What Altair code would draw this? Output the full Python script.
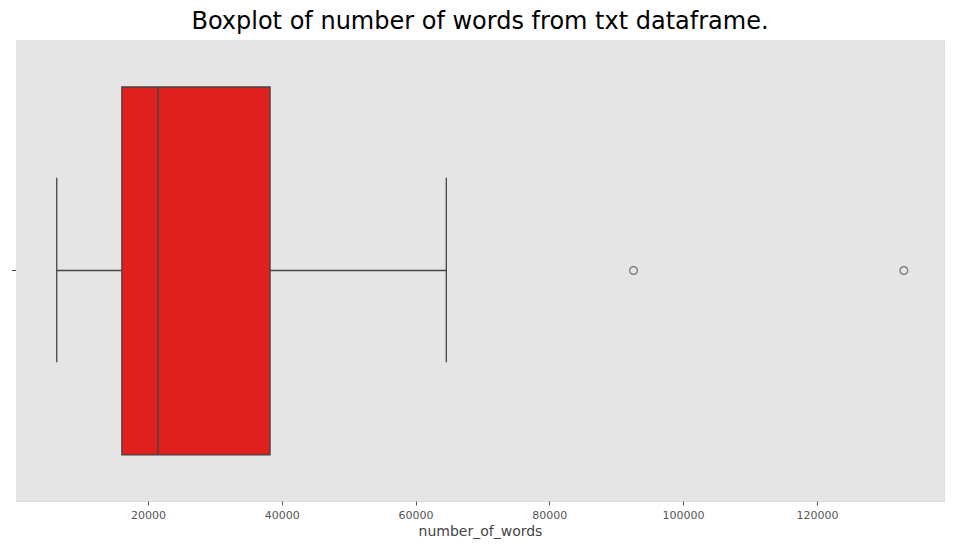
import altair as alt
import pandas as pd

stat_names = ["low", "q1", "median", "q3", "high"]
stat_values = [6360, 16090, 21480, 38250, 64600]
outliers = [92590, 133000]

s = dict(zip(stat_names, stat_values))
box_df = pd.DataFrame([s])
out_df = pd.DataFrame({"number_of_words": outliers})

W, H = 928, 461
xscale = alt.Scale(domain=[270, 139000], nice=False, zero=False)
xaxis = alt.Axis(title="number_of_words", values=[20000, 40000, 60000, 80000, 100000, 120000],
                 format="d", grid=True, gridColor="white", gridWidth=1, domain=False,
                 tickColor="#555", labelColor="#555", labelFontSize=11, titleFontSize=14,
                 titleColor="#444", titleFontWeight="normal", tickSize=4, labelPadding=4)

base = alt.Chart(box_df)
cy = H * 0.5
bg = base.mark_rect(fill="#E5E5E5").encode(x=alt.value(0), x2=alt.value(W), y=alt.value(0), y2=alt.value(H))
box = base.mark_rect(fill="#E01F1F", stroke="#444", strokeWidth=1.3).encode(
    x=alt.X("q1:Q", scale=xscale, axis=xaxis), x2="q3:Q",
    y=alt.value(H * 0.102), y2=alt.value(H * 0.9))
wl = base.mark_rule(color="#444", strokeWidth=1.3).encode(x=alt.X("low:Q", scale=xscale), x2="q1:Q", y=alt.value(cy))
wh = base.mark_rule(color="#444", strokeWidth=1.3).encode(x=alt.X("q3:Q", scale=xscale), x2="high:Q", y=alt.value(cy))
capl = base.mark_rule(color="#444", strokeWidth=1.3).encode(x=alt.X("low:Q", scale=xscale), y=alt.value(H * 0.299), y2=alt.value(H * 0.699))
caph = base.mark_rule(color="#444", strokeWidth=1.3).encode(x=alt.X("high:Q", scale=xscale), y=alt.value(H * 0.299), y2=alt.value(H * 0.699))
med = base.mark_rule(color="#444", strokeWidth=1.6).encode(x=alt.X("median:Q", scale=xscale), y=alt.value(H * 0.102), y2=alt.value(H * 0.9))
pts = alt.Chart(out_df).mark_point(shape="circle", color="#444", size=60, strokeWidth=1.2, filled=False).encode(
    x=alt.X("number_of_words:Q", scale=xscale), y=alt.value(cy))
ytick = base.mark_rule(color="#444").encode(x=alt.value(-4), x2=alt.value(0), y=alt.value(cy))

chart = alt.layer(bg, box, wl, wh, capl, caph, med, pts, ytick).properties(
    width=W, height=H,
    title=alt.Title("Boxplot of number of words from txt dataframe.", fontSize=24,
                    fontWeight="normal", color="black", offset=6),
    autosize=alt.AutoSizeParams(type="none"),
    padding={"left": 8, "top": 32, "right": 2, "bottom": 50},
).configure_view(stroke=None).configure(font="DejaVu Sans")

chart.save("out.html", embed_options={"renderer": "svg", "actions": False})
